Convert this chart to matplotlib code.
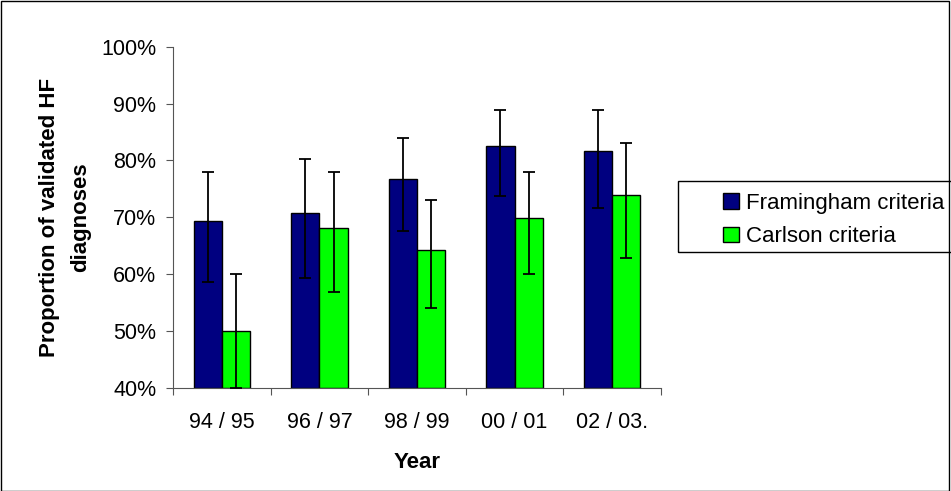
import numpy as np
import matplotlib.pyplot as plt
from matplotlib.patches import Rectangle

plt.rcParams['font.family'] = ['Liberation Sans', 'DejaVu Sans']

years = ['94 / 95', '96 / 97', '98 / 99', '00 / 01', '02 / 03.']
framingham = [69.3, 70.7, 76.8, 82.5, 81.7]
framingham_lo = [58.7, 59.3, 67.6, 73.7, 71.6]
framingham_hi = [77.9, 80.2, 83.9, 88.8, 88.8]
carlson = [50.0, 68.2, 64.2, 69.9, 74.0]
carlson_lo = [40.0, 56.9, 54.1, 60.0, 62.9]
carlson_hi = [60.0, 78.0, 73.0, 78.0, 83.0]

fig = plt.figure(figsize=(9.51, 4.91), dpi=100)
ax = fig.add_axes([0.182, 0.21, 0.513, 0.695])

x = np.arange(len(years))
w = 0.29
f = np.array(framingham)
c = np.array(carlson)
ferr = [f - np.array(framingham_lo), np.array(framingham_hi) - f]
cerr = [c - np.array(carlson_lo), np.array(carlson_hi) - c]

ax.bar(x - w / 2, f - 40, w, bottom=40, color='#000080', edgecolor='black',
       linewidth=1, label='Framingham criteria', zorder=2)
ax.bar(x + w / 2, c - 40, w, bottom=40, color='#00ff00', edgecolor='black',
       linewidth=1, label='Carlson criteria', zorder=2)
ax.errorbar(x - w / 2, f, yerr=ferr, fmt='none', ecolor='black', elinewidth=1.3,
            capsize=4.5, capthick=1.3, zorder=3)
ax.errorbar(x + w / 2, c, yerr=cerr, fmt='none', ecolor='black', elinewidth=1.3,
            capsize=4.5, capthick=1.3, zorder=3)

ax.set_xlim(-0.5, len(years) - 0.5)
ax.set_ylim(40, 100)
ax.set_yticks(np.arange(40, 101, 10))
ax.set_yticklabels([f'{v}%' for v in range(40, 101, 10)], fontsize=15.5)
ax.set_xticks(np.arange(-0.5, len(years), 1.0))
ax.set_xticklabels([])
ax.set_xticks(x, minor=True)
ax.set_xticklabels(years, minor=True, fontsize=15.5)
ax.tick_params(axis='x', which='minor', length=0, pad=17)
ax.tick_params(axis='x', which='major', length=5, direction='out', color='#555555')
ax.tick_params(axis='y', length=5, direction='out', color='#555555', pad=7)
for s in ['top', 'right']:
    ax.spines[s].set_visible(False)
for s in ['left', 'bottom']:
    ax.spines[s].set_color('#555555')

ax.set_xlabel('Year', fontsize=16, fontweight='bold', labelpad=14)
ax.set_ylabel('Proportion of validated HF\ndiagnoses', fontsize=16,
              fontweight='bold', labelpad=7, linespacing=1.65)

leg = fig.legend(loc='upper left', bbox_to_anchor=(723 / 951, 1 - 193 / 491),
                 fontsize=16, frameon=False,
                 handlelength=0.7, handleheight=0.7, handletextpad=0.35,
                 borderpad=0, borderaxespad=0, labelspacing=0.55)
for h in leg.legend_handles:
    h.set_linewidth(1)

# legend frame runs past the right edge of the figure
fig.patches.append(Rectangle((678 / 951, 1 - 252 / 491), 0.4, 71 / 491,
                             transform=fig.transFigure, fill=False,
                             edgecolor='black', linewidth=1))
fig.patches.append(Rectangle((0.001, 0.001), 0.997, 0.997, transform=fig.transFigure,
                             fill=False, edgecolor='black', linewidth=1))

fig.savefig('out.png', dpi=100)
